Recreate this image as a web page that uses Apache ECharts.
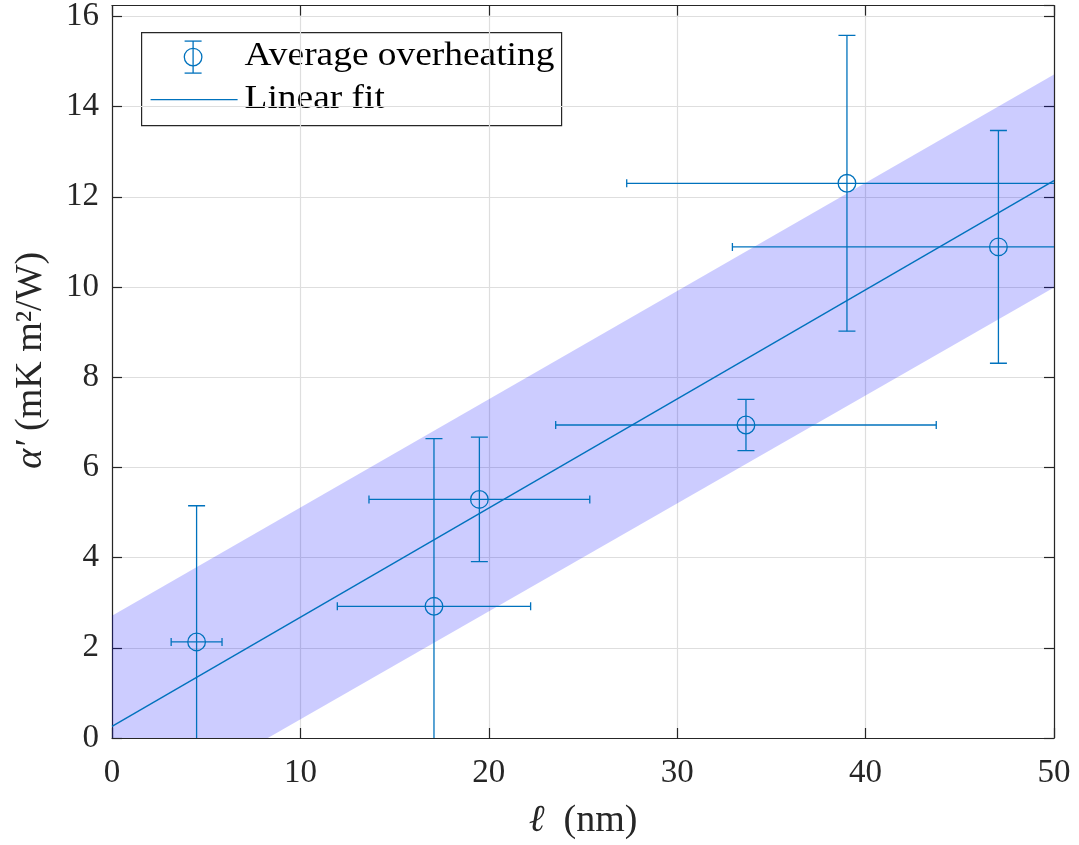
<!DOCTYPE html>
<html>
<head>
<meta charset="utf-8">
<script src="https://cdn.jsdelivr.net/npm/echarts@6/dist/echarts.min.js"></script>
<style>
  html, body { margin: 0; padding: 0; background: #fff; }
  #chart { width: 1079px; height: 845px; }
</style>
</head>
<body>
<div id="chart"></div>
<script>
// Measured points: thickness ℓ (nm) against α′ (mK m²/W)
const ellNm      = [4.49, 17.09, 19.50, 33.65, 39.01, 47.05];
const alphaVals  = [2.13, 2.92, 5.29, 6.94, 12.30, 10.89];
const ellErr     = [1.35, 5.13, 5.86, 10.10, 11.69, 14.12];
const alphaErr   = [3.02, 3.72, 1.38, 0.57, 3.28, 2.58];

// Linear fit and its confidence band, given at the ends of the range
const fitX       = [0, 50];
const fitY       = [0.257, 12.36];
const bandUpper  = [2.71, 14.71];
const bandLower  = [-1.98, 9.99];

// Axis ranges and ticks
const xTicks = [0, 10, 20, 30, 40, 50];
const yTicks = [0, 2, 4, 6, 8, 10, 12, 14, 16];
const yTop = 16.24;

const BLUE = '#0072BD';
const INK = '#262626';
const FONT = '"Liberation Serif", "DejaVu Serif", serif';

const chart = echarts.init(document.getElementById('chart'), null, { renderer: 'canvas' });

const pointData = ellNm.map((x, i) => [x, alphaVals[i], ellErr[i], alphaErr[i]]);

function renderBand(params, api) {
  const pts = [];
  for (let i = 0; i < fitX.length; i++) pts.push(api.coord([fitX[i], bandUpper[i]]));
  for (let i = fitX.length - 1; i >= 0; i--) pts.push(api.coord([fitX[i], bandLower[i]]));
  return {
    type: 'polygon',
    shape: { points: pts },
    style: { fill: 'rgba(0,0,255,0.2)', stroke: null }
  };
}

function renderErrorBar(params, api) {
  const x = api.value(0), y = api.value(1), xe = api.value(2), ye = api.value(3);
  const c = api.coord([x, y]);
  const top = api.coord([x, y + ye]);
  const bot = api.coord([x, y - ye]);
  const left = api.coord([x - xe, y]);
  const right = api.coord([x + xe, y]);
  const capW = 8.5, capH = 4;
  const st = { stroke: BLUE, lineWidth: 1.3, fill: null };
  const line = (x1, y1, x2, y2) => ({ type: 'line', shape: { x1, y1, x2, y2 }, style: st });
  return {
    type: 'group',
    children: [
      line(top[0], top[1], bot[0], bot[1]),
      line(top[0] - capW, top[1], top[0] + capW, top[1]),
      line(bot[0] - capW, bot[1], bot[0] + capW, bot[1]),
      line(left[0], left[1], right[0], right[1]),
      line(left[0], left[1] - capH, left[0], left[1] + capH),
      line(right[0], right[1] - capH, right[0], right[1] + capH),
      { type: 'circle', shape: { cx: c[0], cy: c[1], r: 8.8 }, style: { stroke: BLUE, lineWidth: 1.3, fill: null } }
    ]
  };
}

const axisCommon = {
  axisLine: { show: true, onZero: false, lineStyle: { color: INK, width: 1.2 } },
  axisTick: { show: true, inside: true, length: 10, lineStyle: { color: INK, width: 1.2 } }
};

const titleStyle = {
  fontFamily: FONT, fontSize: 38, color: INK,
  rich: { i: { fontFamily: FONT, fontSize: 38, fontStyle: 'italic', color: INK } }
};

const option = {
  backgroundColor: '#fff',
  animation: false,
  grid: { left: 112, right: 25, top: 4, bottom: 102, containLabel: false },
  xAxis: [
    Object.assign({
      type: 'value', min: xTicks[0], max: xTicks[xTicks.length - 1], interval: 10,
      name: '{i|ℓ}  (nm)', nameLocation: 'middle', nameGap: 64,
      nameTextStyle: titleStyle,
      axisLabel: { fontFamily: FONT, fontSize: 33, color: INK, margin: 19 },
      splitLine: { show: true, lineStyle: { color: '#dedede', width: 1.2 } }
    }, axisCommon),
    Object.assign({
      type: 'value', position: 'top', min: xTicks[0], max: xTicks[xTicks.length - 1], interval: 10,
      axisLabel: { show: false }, splitLine: { show: false }
    }, axisCommon)
  ],
  yAxis: [
    Object.assign({
      type: 'value', min: yTicks[0], max: yTop, interval: 2,
      name: '{i|α′} (mK m²/W)', nameLocation: 'middle', nameGap: 62,
      nameTextStyle: Object.assign({ padding: [0, 0, 0, 23] }, titleStyle),
      axisLabel: { fontFamily: FONT, fontSize: 33, color: INK, margin: 13, showMaxLabel: false },
      splitLine: { show: true, lineStyle: { color: '#dedede', width: 1.2 } }
    }, axisCommon),
    Object.assign({
      type: 'value', position: 'right', min: yTicks[0], max: yTop, interval: 2,
      axisLabel: { show: false }, splitLine: { show: false }
    }, axisCommon)
  ],
  series: [
    {
      type: 'custom', name: 'band', xAxisIndex: 0, yAxisIndex: 0, clip: true,
      data: [[0]], renderItem: renderBand, silent: true, z: 1
    },
    {
      type: 'line', name: 'Linear fit', xAxisIndex: 0, yAxisIndex: 0,
      data: fitX.map((x, i) => [x, fitY[i]]),
      showSymbol: false, symbol: 'none',
      lineStyle: { color: BLUE, width: 1.4 }, z: 3, clip: true
    },
    {
      type: 'custom', name: 'Average overheating', xAxisIndex: 0, yAxisIndex: 0, clip: true,
      data: pointData, renderItem: renderErrorBar, z: 4
    }
  ],
  graphic: [
    {
      type: 'group', left: 141, top: 32, z: 100,
      children: [
        { type: 'rect', shape: { x: 0, y: 0, width: 420, height: 93 },
          style: { fill: '#fff', stroke: INK, lineWidth: 1.2 } },
        // error-bar marker
        { type: 'line', shape: { x1: 51.5, y1: 8.5, x2: 51.5, y2: 40.5 }, style: { stroke: BLUE, lineWidth: 1.3 } },
        { type: 'line', shape: { x1: 43, y1: 8.5, x2: 60, y2: 8.5 }, style: { stroke: BLUE, lineWidth: 1.3 } },
        { type: 'line', shape: { x1: 43, y1: 40.5, x2: 60, y2: 40.5 }, style: { stroke: BLUE, lineWidth: 1.3 } },
        { type: 'circle', shape: { cx: 51.5, cy: 24.5, r: 8.8 }, style: { stroke: BLUE, lineWidth: 1.3, fill: null } },
        { type: 'text', x: 103, y: 23, scaleX: 1.1,
          style: { text: 'Average overheating', font: '34px ' + FONT, fill: '#000', verticalAlign: 'middle' } },
        // fit line marker
        { type: 'line', shape: { x1: 9, y1: 67, x2: 96, y2: 67 }, style: { stroke: BLUE, lineWidth: 1.4 } },
        { type: 'text', x: 103, y: 66, scaleX: 1.1,
          style: { text: 'Linear fit', font: '34px ' + FONT, fill: '#000', verticalAlign: 'middle' } }
      ]
    }
  ]
};

chart.setOption(option);
</script>
</body>
</html>
